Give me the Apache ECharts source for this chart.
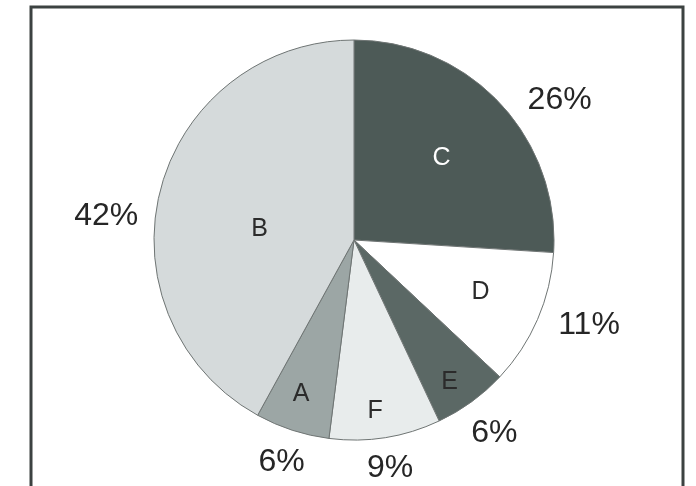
<!DOCTYPE html>
<html>
<head>
<meta charset="utf-8">
<script src="https://cdn.jsdelivr.net/npm/echarts@6/dist/echarts.min.js"></script>
<style>
  html, body { margin: 0; padding: 0; background: #ffffff; }
  #chart { width: 696px; height: 486px; }
</style>
</head>
<body>
<div id="chart"></div>
<script>
// ---- data (clockwise from 12 o'clock) ----
const categories = ['C', 'D', 'E', 'F', 'A', 'B'];
const shares = [26, 11, 6, 9, 6, 42];

// ---- styles / layout (kept apart from the data) ----
const sliceColors = ['#4d5a57', '#ffffff', '#5b6865', '#e8ecec', '#9ca6a5', '#d5dadb'];
const nameColors = ['#ffffff', '#2b2b2b', '#2b2b2b', '#2b2b2b', '#2b2b2b', '#2b2b2b'];
const nameLabelRadiusFrac = [0.585, 0.67, 0.84, 0.845, 0.80, 0.46];
const nameAngleNudge = [0, -1, 2, 2, 1, -8];
const pctAngleNudge = [9, -3.5, 0, 0, 0, -9];
const CENTER = [354, 240];
const R = 200;
const PCT_FONT = 32;
const NAME_FONT = 25;
const PCT_GAP = 213;

const total = shares.reduce((a, b) => a + b, 0);
const midAngles = [];
{
  let cum = 0;
  shares.forEach(v => { midAngles.push(360 * (cum + v / 2) / total); cum += v; });
}
function dirOf(deg) {
  const r = deg * Math.PI / 180;
  return [Math.sin(r), -Math.cos(r)];
}
function pctText(v) { return Math.round(100 * v / total) + '%'; }

// text width estimate (Arial-like metrics)
function textWidth(s, size) {
  let w = 0;
  for (const ch of s) w += (ch === '%') ? 0.889 : 0.556;
  return w * size;
}

const nameData = categories.map((c, i) => {
  const ang = midAngles[i] + nameAngleNudge[i];
  const d = dirOf(ang);
  const base = dirOf(midAngles[i]);
  const dist = nameLabelRadiusFrac[i] * R;
  const tx = d[0] * dist, ty = d[1] * dist;
  return {
    name: c,
    value: shares[i],
    itemStyle: { color: sliceColors[i] },
    label: {
      color: nameColors[i],
      offset: [tx - base[0] * R / 2, ty - base[1] * R / 2]
    }
  };
});

const pctData = categories.map((c, i) => {
  const ang = midAngles[i] + pctAngleNudge[i];
  const d = dirOf(ang);
  const base = dirOf(midAngles[i]);
  const txt = pctText(shares[i]);
  const hw = textWidth(txt, PCT_FONT) / 2;
  const hh = PCT_FONT * 0.36;
  const dist = PCT_GAP + hw * Math.abs(d[0]) + hh * Math.abs(d[1]);
  const tx = d[0] * dist, ty = d[1] * dist;
  return {
    name: c,
    value: shares[i],
    label: { offset: [tx - base[0] * R / 2, ty - base[1] * R / 2] }
  };
});

const chart = echarts.init(document.getElementById('chart'), null, { renderer: 'canvas' });
chart.setOption({
  animation: false,
  backgroundColor: '#ffffff',
  graphic: [{
    type: 'rect',
    shape: { x: 31, y: 7, width: 652, height: 520 },
    style: { fill: 'none', stroke: '#3c4241', lineWidth: 3 },
    silent: true
  }],
  series: [
    {
      type: 'pie',
      center: CENTER,
      radius: [0, R],
      startAngle: 90,
      clockwise: true,
      avoidLabelOverlap: false,
      silent: true,
      itemStyle: { borderColor: '#6f7574', borderWidth: 1 },
      label: {
        show: true,
        position: 'inside',
        formatter: '{b}',
        fontFamily: 'Liberation Sans, Arial, sans-serif',
        fontSize: NAME_FONT
      },
      labelLine: { show: false },
      emphasis: { disabled: true },
      data: nameData
    },
    {
      type: 'pie',
      center: CENTER,
      radius: [0, R],
      startAngle: 90,
      clockwise: true,
      avoidLabelOverlap: false,
      silent: true,
      itemStyle: { color: 'rgba(0,0,0,0)', borderWidth: 0 },
      label: {
        show: true,
        position: 'inside',
        formatter: p => pctText(p.value),
        color: '#262626',
        fontFamily: 'Liberation Sans, Arial, sans-serif',
        fontSize: PCT_FONT
      },
      labelLine: { show: false },
      emphasis: { disabled: true },
      data: pctData
    }
  ]
});
</script>
</body>
</html>
